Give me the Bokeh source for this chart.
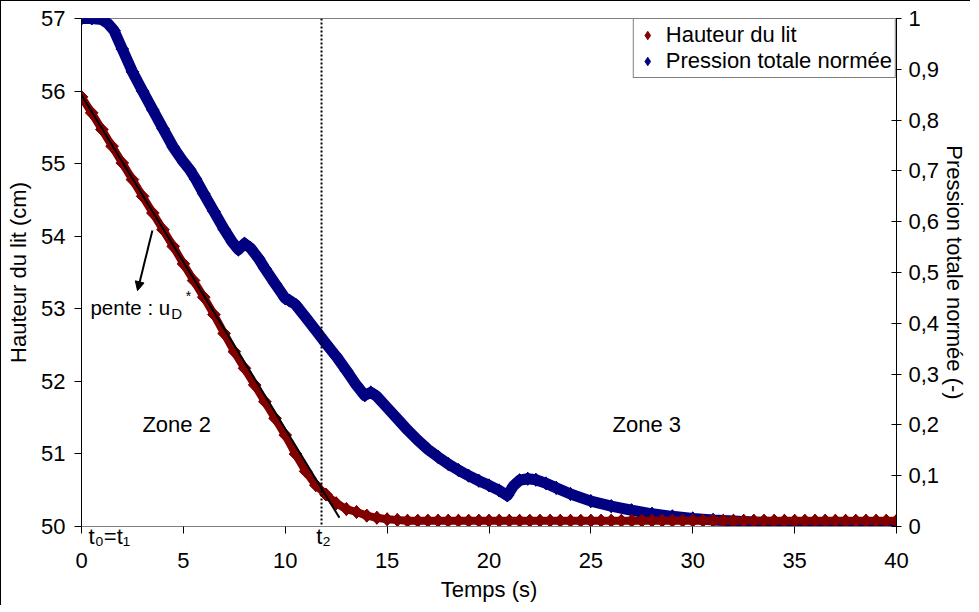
from bokeh.plotting import figure
from bokeh.models import (Range1d, LinearAxis, FixedTicker, CustomJSTickFormatter, Span,
                          Label, Arrow, NormalHead, Legend, LegendItem)
from bokeh.embed import file_html
from bokeh.resources import INLINE

# ---- data ----
red_t = [0, 0.5, 1, 1.5, 2, 2.5, 3, 3.5, 4, 4.5, 5, 5.5, 6, 6.5, 7, 7.5, 8, 8.5, 9, 9.5,
         10, 10.5, 11, 11.5, 12, 12.5, 13, 13.5, 14, 14.5, 15, 15.5, 16, 16.5, 17, 17.5, 18, 18.5, 19, 19.5,
         20, 20.5, 21, 21.5, 22, 22.5, 23, 23.5, 24, 24.5, 25, 25.5, 26, 26.5, 27, 27.5, 28, 28.5, 29, 29.5,
         30, 30.5, 31, 31.5, 32, 32.5, 33, 33.5, 34, 34.5, 35, 35.5, 36, 36.5, 37, 37.5, 38, 38.5, 39, 39.5, 40]
red_h = [55.92, 55.70, 55.47, 55.24, 55.01, 54.78, 54.55, 54.32, 54.09, 53.86, 53.62, 53.39, 53.16, 52.92,
         52.66, 52.41, 52.18, 51.95, 51.72, 51.49, 51.26, 51.00, 50.76, 50.57, 50.44, 50.32, 50.24, 50.20,
         50.15, 50.12, 50.10, 50.09, 50.08, 50.08, 50.08, 50.08, 50.08, 50.08, 50.08, 50.08, 50.08, 50.08,
         50.08, 50.08, 50.08, 50.08, 50.08, 50.08, 50.08, 50.08, 50.08, 50.08, 50.08, 50.08, 50.08, 50.08,
         50.08, 50.08, 50.08, 50.08, 50.08, 50.08, 50.08, 50.08, 50.08, 50.08, 50.08, 50.08, 50.08, 50.08,
         50.08, 50.08, 50.08, 50.08, 50.08, 50.08, 50.08, 50.08, 50.08, 50.08, 50.08]

blue_t = [0, 0.5, 1.0, 1.3, 1.6, 2.0, 2.5, 3.0, 3.5, 4.0, 4.5, 5.0, 5.3, 5.6, 6.0, 6.5, 7.0, 7.4, 7.7,
          8.0, 8.3, 8.7, 9.0, 9.5, 10.0, 10.2, 10.5, 11.0, 11.5, 12.0, 12.5, 13.0, 13.5, 13.9, 14.2,
          14.5, 15.0, 15.5, 16.0, 16.5, 17.0, 17.5, 18.0, 18.5, 19.0, 19.5, 20.0, 20.5, 20.9, 21.2,
          21.5, 21.9, 22.3, 22.8, 23.3, 24.0, 25.0, 26.0, 27.0, 28.0, 29.0, 30.0, 31.0, 32.0, 33.0,
          34.0, 35.0, 36.0, 37.0, 38.0, 39.0, 40.0]
blue_p = [1.0, 1.0, 0.998, 0.99, 0.976, 0.94, 0.895, 0.857, 0.82, 0.783, 0.747, 0.718, 0.703, 0.684,
          0.655, 0.62, 0.585, 0.56, 0.545, 0.557, 0.548, 0.527, 0.508, 0.478, 0.449, 0.445, 0.437,
          0.412, 0.386, 0.36, 0.335, 0.307, 0.278, 0.258, 0.264, 0.256, 0.234, 0.212, 0.19, 0.17,
          0.152, 0.137, 0.123, 0.111, 0.1, 0.09, 0.081, 0.071, 0.061, 0.08, 0.091, 0.094, 0.092,
          0.085, 0.076, 0.064, 0.05, 0.04, 0.032, 0.025, 0.02, 0.016, 0.013, 0.011, 0.009, 0.008,
          0.007, 0.006, 0.005, 0.005, 0.004, 0.004]

x_ticks = [0, 5, 10, 15, 20, 25, 30, 35, 40]
left_ticks = [50, 51, 52, 53, 54, 55, 56, 57]
right_ticks = [0, 0.1, 0.2, 0.3, 0.4, 0.5, 0.6, 0.7, 0.8, 0.9, 1.0]
time_marks = [1.37, 11.88]          # positions of the "t0=t1" and "t2" marks
time_mark_labels = ["t₀=t₁", "t₂"]

fit_t = [-0.44, 12.66]
fit_h = [56.15, 50.12]
t2 = 11.78

FONT = "Liberation Sans"
FS = "22px"
RED = "#800000"
BLUE = "#000080"
DIAM = 0.785398

p = figure(width=970, height=605, x_range=Range1d(0, 40), y_range=Range1d(50, 57),
           output_backend="svg", toolbar_location=None,
           min_border_left=80, min_border_right=75, min_border_top=17, min_border_bottom=80)
p.extra_y_ranges = {"p": Range1d(0, 1)}
p.styles = {"border-left": "1px solid black", "border-top": "1px solid black"}
p.xgrid.visible = False
p.ygrid.visible = False
p.outline_line_color = "#808080"
p.background_fill_color = "white"
p.border_fill_color = "white"

# x axis next to the frame: tick marks + time marks labels
xa = p.xaxis[0]
xa.ticker = FixedTicker(ticks=time_marks, minor_ticks=x_ticks)
xa.formatter = CustomJSTickFormatter(args=dict(labs=time_mark_labels),
                                     code="return tick < 5 ? labs[0] : labs[1];")
xa.axis_line_color = "#808080"
xa.major_tick_in = 0
xa.major_tick_out = 0
xa.major_tick_line_color = None
xa.minor_tick_in = 0
xa.minor_tick_out = 7
xa.minor_tick_line_color = "black"
xa.major_label_standoff = -10

# second x axis with the numbers and the title
xb = LinearAxis(ticker=FixedTicker(ticks=x_ticks), axis_label="Temps (s)")
xb.axis_line_color = None
xb.major_tick_line_color = None
xb.major_tick_in = 0
xb.major_tick_out = 0
xb.minor_tick_line_color = None
xb.major_label_standoff = 1
xb.axis_label_standoff = 6
p.add_layout(xb, "below")

# left axis
ya = p.yaxis[0]
ya.ticker = FixedTicker(ticks=left_ticks)
ya.axis_label = "Hauteur du lit (cm)"
ya.major_tick_in = 0
ya.major_tick_out = 7
ya.minor_tick_line_color = None
ya.major_label_standoff = 9
ya.axis_label_standoff = 7
ya.major_tick_line_color = "black"

# right axis
ra = LinearAxis(y_range_name="p", ticker=FixedTicker(ticks=right_ticks),
                axis_label="Pression totale normée (-)")
ra.formatter = CustomJSTickFormatter(code="""
if (Math.abs(tick - Math.round(tick)) < 1e-9) { return String(Math.round(tick)); }
return tick.toFixed(1).replace('.', ',');
""")
ra.major_tick_in = 5
ra.major_tick_out = 5
ra.minor_tick_line_color = None
ra.major_label_standoff = 7
ra.axis_label_standoff = 0
ra.major_tick_line_color = "black"
p.add_layout(ra, "right")

for ax in [xa, xb, ya, ra]:
    ax.major_label_text_font = FONT
    ax.major_label_text_font_size = FS
    ax.major_label_text_color = "black"
    ax.axis_label_text_font = FONT
    ax.axis_label_text_font_size = FS
    ax.axis_label_text_font_style = "normal"
    ax.axis_label_text_color = "black"
ya.axis_line_color = "black"
ra.axis_line_color = "black"

# series
p.line(blue_t, blue_p, y_range_name="p", line_color=BLUE, line_width=11, line_join="round",
       line_cap="round")
r_blue = p.scatter(blue_t, blue_p, y_range_name="p", marker="diamond", size=13,
                   fill_color=BLUE, line_color=BLUE)
p.scatter(blue_t, blue_p, y_range_name="p", marker="square", angle=DIAM, size=9,
          fill_color=BLUE, line_color=BLUE)
p.line(red_t, red_h, line_color=RED, line_width=8, line_join="round")
r_red = p.scatter(red_t, red_h, marker="diamond", size=13, fill_color=RED, line_color=RED)
p.scatter(red_t, red_h, marker="square", angle=DIAM, size=9, fill_color=RED, line_color=RED)

# fitted slope line
p.add_layout(Arrow(x_start=fit_t[0], y_start=fit_h[0], x_end=fit_t[1], y_end=fit_h[1],
                   start=None, end=None, line_color="black", line_width=2))

# t2 dotted line
p.add_layout(Span(location=t2, dimension="height", line_color="black", line_width=2,
                  line_dash="2 2"))

# arrow for slope annotation
p.add_layout(Arrow(x_start=3.48, y_start=54.08, x_end=2.75, y_end=53.25, line_color="black",
                   line_width=2,
                   end=NormalHead(size=9, fill_color="black", line_color="black")))


def lab(x, y, text, size=FS):
    p.add_layout(Label(x=x, y=y, text=text, text_font=FONT, text_font_size=size,
                       text_color="black", text_align="left", text_baseline="alphabetic"))


lab(2.99, 51.41, "Zone 2")
lab(26.06, 51.41, "Zone 3")
lab(0.44, 53.02, "pente : u", "20.5px")
lab(4.40, 52.93, "D", "15px")
lab(5.12, 53.17, "*", "14px")

legend = Legend(items=[LegendItem(label="Hauteur du lit", renderers=[r_red]),
                       LegendItem(label="Pression totale normée", renderers=[r_blue])],
                location="top_right", margin=0, padding=3, spacing=0,
                glyph_width=21, glyph_height=26, label_standoff=8,
                border_line_color="black", border_line_width=1,
                background_fill_color="white", background_fill_alpha=1,
                label_text_font=FONT, label_text_font_size=FS, label_text_color="black")
p.add_layout(legend)

open("out.html", "w").write(file_html(p, INLINE))
